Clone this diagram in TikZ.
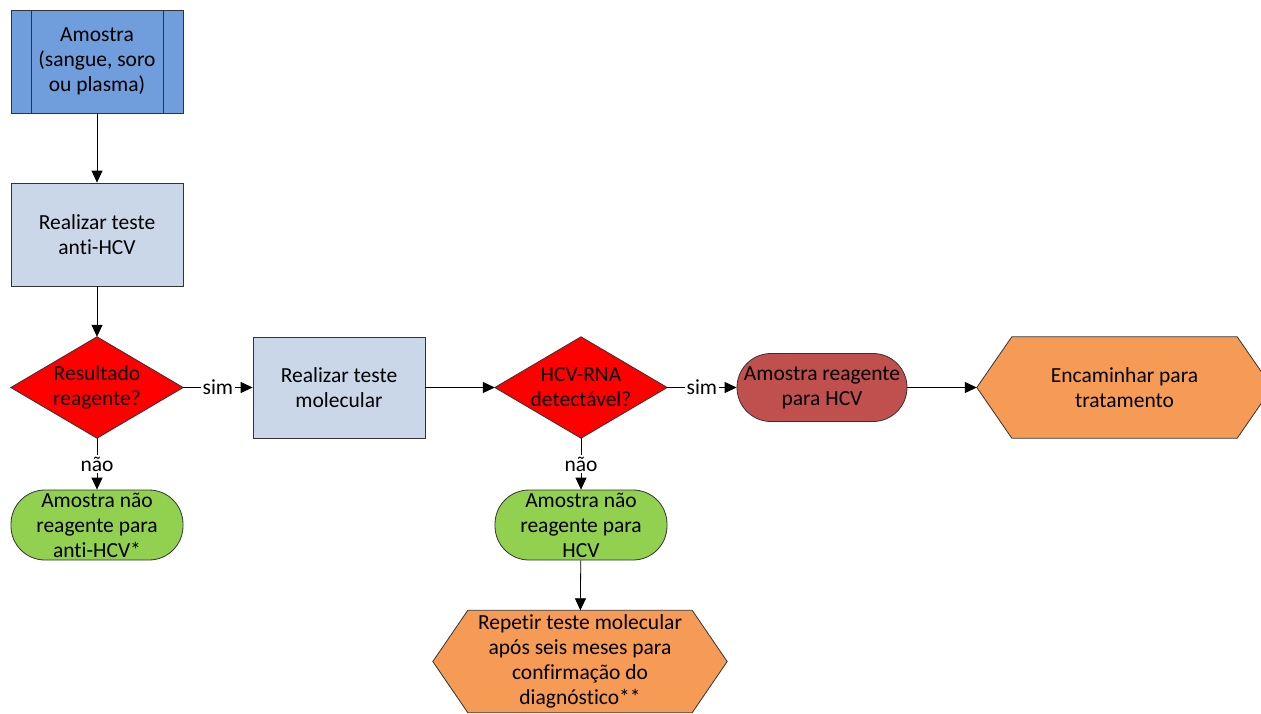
\documentclass[tikz,border=0pt]{standalone}
\usepackage{fontspec}
\setmainfont{Carlito}[RawFeature=-liga]
\usetikzlibrary{arrows.meta,backgrounds}
\definecolor{cBlue}{RGB}{112,158,220}
\definecolor{cLight}{RGB}{201,215,232}
\definecolor{cRed}{RGB}{255,0,0}
\definecolor{cDark}{RGB}{192,80,77}
\definecolor{cOrange}{RGB}{246,155,85}
\definecolor{cGreen}{RGB}{146,208,80}
\begin{document}
\begin{tikzpicture}[x=1pt,y=-1pt,
  txt/.style={font=\fontsize{21.5}{25}\selectfont},
  base/.style={txt,rectangle,inner sep=0pt,align=center},
  outl/.style={draw=black!80,line width=0.8pt},
  procbox/.style={base,outl,fill=cLight,minimum width=172pt,minimum height=103pt},
  subbox/.style={base,outl,fill=cBlue,minimum width=172pt,minimum height=103pt},
  diabox/.style={base,minimum width=172pt,minimum height=101pt},
  hexbox/.style={base,minimum height=101pt},
  termbox/.style={base,outl,rounded corners=34pt,minimum width=172pt,minimum height=70pt},
  arr/.style={draw=black,line width=0.8pt,-{Triangle[length=12pt,width=11pt]}},
  lbl/.style={txt,fill=white,inner sep=1.5pt}
]
\useasboundingbox (0,0) rectangle (1261,713);

\node[subbox] (s) at (97,61.5) {Amostra\\(sangue, soro\\ou plasma)};
\draw[outl] ([xshift=21pt]s.north west) -- ([xshift=21pt]s.south west);
\draw[outl] ([xshift=-20pt]s.north east) -- ([xshift=-20pt]s.south east);

\node[procbox] (r1) at (97,234.5) {Realizar teste\\anti-HCV};
\node[diabox] (d1) at (97,387.5) {Resultado\\reagente?};
\node[procbox,minimum height=101pt] (r2) at (339,387.5) {Realizar teste\\molecular};
\node[diabox] (d2) at (581,387.5) {HCV-RNA\\detectável?};
\node[termbox,fill=cDark,minimum width=170pt,minimum height=68pt] (t1) at (822,387.5) {Amostra reagente\\para HCV};
\node[hexbox,minimum width=295pt] (h1) at (1124.5,387.5) {Encaminhar para\\tratamento};
\node[termbox,fill=cGreen] (g1) at (97,525) {Amostra não\\reagente para\\anti-HCV*};
\node[termbox,fill=cGreen] (g2) at (581,525) {Amostra não\\reagente para\\HCV};
\node[hexbox,minimum width=294pt,minimum height=102pt] (h2) at (580,661.5) {Repetir teste molecular\\após seis meses para\\confirmação do\\diagnóstico**};

\begin{scope}[on background layer]
  \foreach \n in {d1,d2}
    \filldraw[outl,fill=cRed] (\n.north) -- (\n.east) -- (\n.south) -- (\n.west) -- cycle;
  \foreach \n in {h1,h2}
    \filldraw[outl,fill=cOrange] (\n.west) -- ([xshift=35pt]\n.north west) -- ([xshift=-35pt]\n.north east)
      -- (\n.east) -- ([xshift=-35pt]\n.south east) -- ([xshift=35pt]\n.south west) -- cycle;
\end{scope}

\draw[arr] (s) -- (r1);
\draw[arr] (r1) -- (d1);
\draw[arr] (d1) -- node[lbl] {sim} (r2);
\draw[arr] (r2) -- (d2);
\draw[arr] (d2) -- node[lbl] {sim} (t1);
\draw[arr] (t1) -- (h1);
\draw[arr] (d1) -- node[lbl] {não} (g1);
\draw[arr] (d2) -- node[lbl] {não} (g2);
\draw[arr] (g2) -- (h2);
\end{tikzpicture}
\end{document}
